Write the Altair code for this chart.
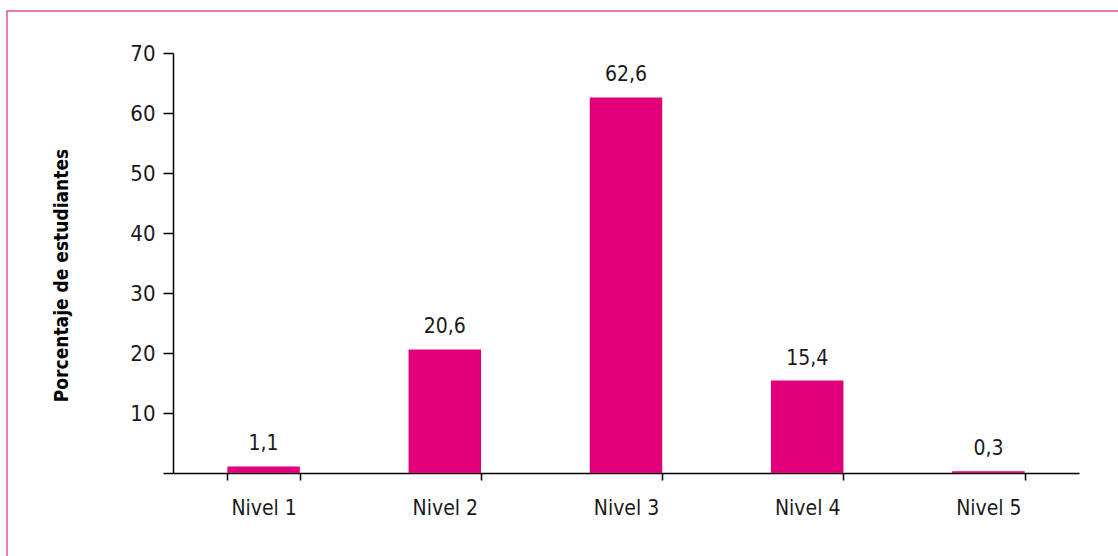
import altair as alt
import pandas as pd

niveles = ["Nivel 1", "Nivel 2", "Nivel 3", "Nivel 4", "Nivel 5"]
porcentajes = [1.1, 20.6, 62.6, 15.4, 0.3]
etiquetas = ["1,1", "20,6", "62,6", "15,4", "0,3"]
y_ticks = [0, 10, 20, 30, 40, 50, 60, 70]

FONT = "Liberation Sans Narrow, DejaVu Sans Condensed, sans-serif"
BAR = "#E2007A"
FRAME = "#E24FA6"

df = pd.DataFrame({"nivel": niveles, "valor": porcentajes, "etiqueta": etiquetas})

x_enc = alt.X(
    "nivel:N",
    sort=niveles,
    scale=alt.Scale(paddingInner=0.6, paddingOuter=0.3),
    axis=alt.Axis(
        title=None,
        labelAngle=0,
        tickBand="extent",
        tickSize=7,
        tickWidth=1.5,
        tickColor="black",
        domainColor="black",
        domainWidth=1.5,
        labelFont=FONT,
        labelFontSize=21,
        labelColor="#1a1a1a",
        labelPadding=17,
    ),
)

y_enc = alt.Y(
    "valor:Q",
    scale=alt.Scale(domain=[0, 70], nice=False),
    axis=alt.Axis(
        values=y_ticks,
        labelExpr="datum.value == 0 ? '' : datum.label",
        title="Porcentaje de estudiantes",
        titleFont=FONT,
        titleFontSize=19,
        titleFontWeight="bold",
        titleColor="black",
        titleX=-106,
        titleY=222,
        titleAngle=270,
        titleAlign="center",
        titleBaseline="alphabetic",
        grid=False,
        tickSize=10,
        tickWidth=1.5,
        tickColor="black",
        domainColor="black",
        domainWidth=1.5,
        labelFont=FONT,
        labelFontSize=22,
        labelColor="#1a1a1a",
        labelPadding=8,
    ),
)

bars = alt.Chart(df).mark_bar(color=BAR).encode(x=x_enc, y=y_enc)

labels = alt.Chart(df).mark_text(
    baseline="bottom", dy=-12, font=FONT, fontSize=21, color="#1a1a1a"
).encode(x=alt.X("nivel:N", sort=niveles), y="valor:Q", text="etiqueta:N")

frame = alt.Chart(pd.DataFrame({"k": [0]})).mark_rect(
    fill=None, stroke=FRAME, strokeWidth=1.5
).encode(
    x=alt.value(-166), x2=alt.value(1100), y=alt.value(-42), y2=alt.value(700)
)

chart = alt.layer(frame, bars, labels).properties(
    width=906,
    height=420,
    autosize=alt.AutoSizeParams(type="none"),
    padding={"left": 173, "top": 53, "right": 39, "bottom": 83},
).configure(background="white", view=alt.ViewConfig(stroke=None))

chart.save("out.html", embed_options={"renderer": "svg", "actions": False})
